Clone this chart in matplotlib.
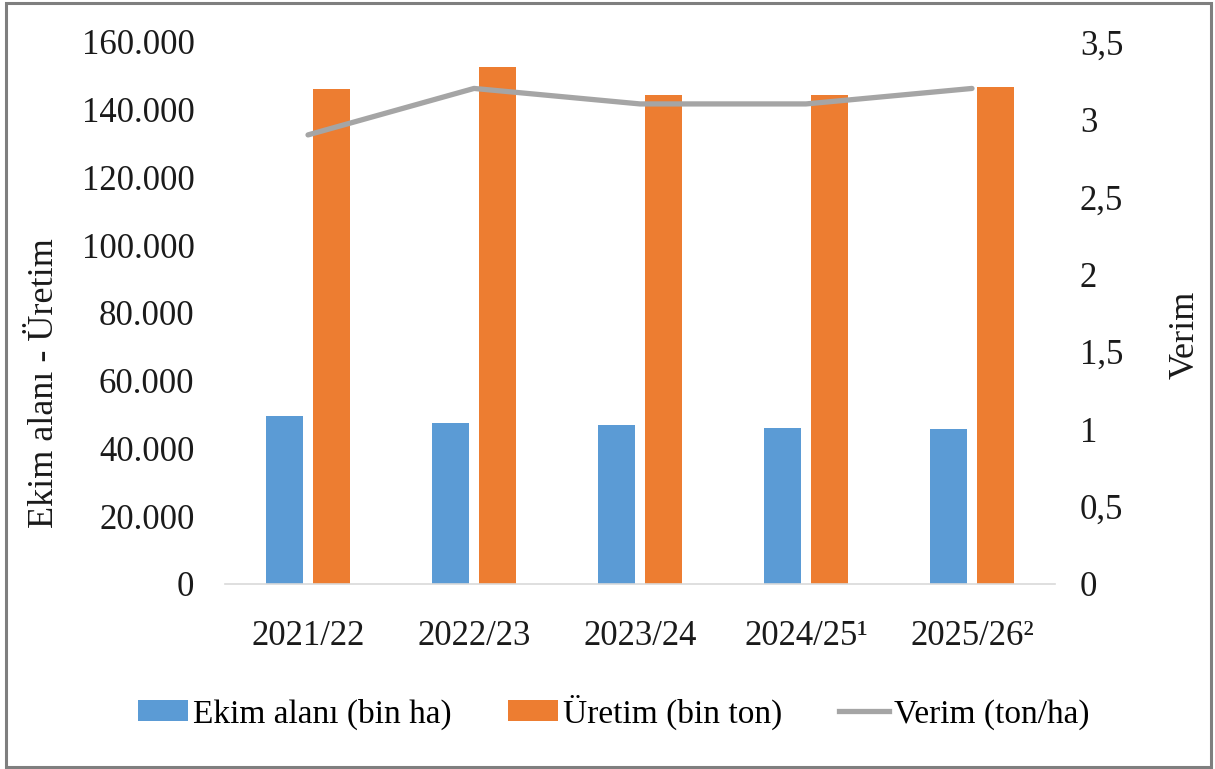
import matplotlib
matplotlib.use("Agg")
import matplotlib.pyplot as plt
from matplotlib.patches import Patch, Rectangle
from matplotlib.lines import Line2D
import numpy as np

categories = ["2021/22", "2022/23", "2023/24", "2024/25¹", "2025/26²"]
ekim_alani = [49600, 47400, 46900, 46100, 45800]
uretim = [146100, 152600, 144400, 144400, 146700]
verim = [2.9, 3.2, 3.1, 3.1, 3.2]

BLUE = "#5B9BD5"
ORANGE = "#ED7D31"
GRAY = "#A5A5A5"
FONT = ["Liberation Serif", "DejaVu Serif"]

plt.rcParams["font.family"] = FONT

fig = plt.figure(figsize=(12.15, 7.69), dpi=100)
ax = fig.add_axes([0.1852, 0.2406, 0.6831, 0.7048])
ax2 = ax.twinx()

x = np.arange(len(categories))
w = 0.222
off = 0.144
ax.bar(x - off, ekim_alani, width=w, color=BLUE, zorder=2)
ax.bar(x + off, uretim, width=w, color=ORANGE, zorder=2)
ax2.plot(x, verim, color=GRAY, lw=3.8, solid_capstyle="round", zorder=3)

ax.set_xlim(-0.5, 4.5)
ax.set_ylim(0, 160000)
ax.set_yticks(np.arange(0, 160001, 20000))
ax.set_yticklabels(["0" if v == 0 else f"{v // 1000}.000" for v in range(0, 160001, 20000)])
ax2.set_ylim(0, 3.5)
r_ticks = [0, 0.5, 1, 1.5, 2, 2.5, 3, 3.5]
ax2.set_yticks(r_ticks)
ax2.set_yticklabels([("%g" % t).replace(".", ",") for t in r_ticks])

ax.set_xticks(x)
ax.set_xticklabels(categories)

for a in (ax, ax2):
    for s in a.spines.values():
        s.set_visible(False)
    a.tick_params(length=0, labelsize=25, colors="#1a1a1a")
ax.spines["bottom"].set_visible(True)
ax.spines["bottom"].set_color("#D9D9D9")
ax.spines["bottom"].set_linewidth(1.2)
ax.tick_params(axis="y", pad=22)
ax.tick_params(axis="x", pad=26)
ax2.tick_params(axis="y", pad=18)
ax.set_zorder(1)
ax2.set_zorder(2)
ax.patch.set_visible(False)

fig.text(0.037, 0.502, "Ekim alanı - Üretim", rotation=90, ha="center", va="center",
         fontsize=26, color="#1a1a1a")
fig.text(0.975, 0.565, "Verim", rotation=90, ha="center", va="center",
         fontsize=26, color="#1a1a1a")

handles = [Patch(facecolor=BLUE), Patch(facecolor=ORANGE),
           Line2D([0], [0], color=GRAY, lw=3.8)]
labels = ["Ekim alanı (bin ha)", "Üretim (bin ton)", "Verim (ton/ha)"]
fig.legend(handles, labels, loc="center", bbox_to_anchor=(0.505, 0.074), ncol=3,
           frameon=False, fontsize=24, handlelength=1.5, handleheight=0.6,
           handletextpad=0.15, columnspacing=1.7)

fig.patches.append(Rectangle((0.005, 0.003), 0.992, 0.993, transform=fig.transFigure,
                             fill=False, edgecolor="#7F7F7F", lw=2.2))

fig.savefig("out.png", dpi=100)
